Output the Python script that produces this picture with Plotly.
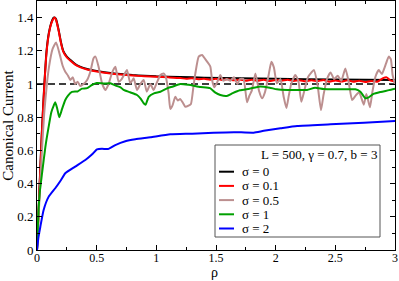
import plotly.graph_objects as go

# ---- data ----
rho_s0 = [0, 0.02, 0.04, 0.06, 0.08, 0.10, 0.12, 0.14, 0.15, 0.16, 0.18, 0.20, 0.22, 0.25, 0.28,
          0.32, 0.36, 0.42, 0.50, 0.60, 0.70, 0.80, 0.90, 1.0, 1.2, 1.4, 1.7, 2.0, 2.5, 3.0]
cur_s0 = [0, 0.36, 0.70, 0.98, 1.20, 1.31, 1.37, 1.40, 1.40, 1.39, 1.33, 1.255, 1.20, 1.165, 1.145,
          1.12, 1.105, 1.09, 1.078, 1.068, 1.06, 1.054, 1.05, 1.046, 1.042, 1.038, 1.034, 1.031, 1.027, 1.024]

rho_s01 = [0, 0.02, 0.04, 0.06, 0.08, 0.10, 0.12, 0.14, 0.15, 0.16, 0.18, 0.20, 0.22, 0.25, 0.28,
           0.32, 0.36, 0.42, 0.50, 0.60, 0.70, 0.80, 0.90, 1.0, 1.1, 1.2, 1.25, 1.3, 1.35, 1.4, 1.45,
           1.5, 1.55, 1.6, 1.65, 1.7, 1.75, 1.8, 1.85, 1.9, 1.95, 2.0, 2.05, 2.1, 2.15, 2.2, 2.25,
           2.3, 2.35, 2.4, 2.45, 2.5, 2.55, 2.6, 2.65, 2.7, 2.75, 2.8, 2.85, 2.9, 2.93, 2.96, 3.0]
cur_s01 = [0, 0.35, 0.69, 0.97, 1.19, 1.305, 1.365, 1.395, 1.40, 1.385, 1.325, 1.25, 1.195, 1.16, 1.14,
           1.117, 1.102, 1.087, 1.075, 1.065, 1.057, 1.051, 1.047, 1.043, 1.040, 1.036, 1.031, 1.034, 1.028, 1.031, 1.026,
           1.032, 1.024, 1.029, 1.022, 1.027, 1.02, 1.026, 1.019, 1.025, 1.018, 1.024, 1.02, 1.026, 1.018, 1.023, 1.016,
           1.022, 1.017, 1.024, 1.014, 1.021, 1.015, 1.022, 1.014, 1.02, 1.012, 1.018, 1.013, 1.035, 1.04, 1.022, 1.015]

rho_s05 = [0, 0.02, 0.04, 0.06, 0.08, 0.10, 0.13, 0.16, 0.19, 0.215, 0.237, 0.26, 0.279, 0.30, 0.32, 0.34,
           0.363, 0.39, 0.42, 0.447, 0.474, 0.49, 0.516, 0.545, 0.573, 0.60, 0.63, 0.657, 0.684, 0.71,
           0.726, 0.754, 0.782, 0.81, 0.838, 0.866, 0.894, 0.92, 0.95, 0.977, 1.005, 1.034, 1.061, 1.08,
           1.103, 1.117, 1.135, 1.159, 1.18, 1.20, 1.22, 1.243, 1.27, 1.29, 1.31, 1.327, 1.355, 1.383,
           1.41, 1.44, 1.453, 1.467, 1.486, 1.51, 1.536, 1.56, 1.59, 1.62, 1.65, 1.68, 1.70, 1.73, 1.76,
           1.78, 1.80, 1.83, 1.86, 1.886, 1.91, 1.94, 1.964, 1.985, 2.01, 2.04, 2.067, 2.09, 2.11, 2.13,
           2.165, 2.19, 2.215, 2.24, 2.27, 2.30, 2.32, 2.35, 2.38, 2.40, 2.43, 2.46, 2.49, 2.52, 2.55,
           2.584, 2.61, 2.64, 2.67, 2.70, 2.738, 2.76, 2.79, 2.81, 2.836, 2.864, 2.89, 2.925, 2.947,
           2.965, 2.98, 3.0]
cur_s05 = [0, 0.30, 0.58, 0.82, 0.98, 1.10, 1.21, 1.25, 1.18, 1.11, 1.074, 1.05, 1.024, 1.04, 1.0, 1.014,
           0.988, 1.0, 1.024, 1.074, 1.155, 1.165, 1.104, 1.004, 0.964, 1.0, 1.07, 1.104, 1.014, 1.03,
           1.05, 1.084, 1.004, 1.034, 0.964, 1.0, 1.024, 0.954, 1.0, 0.964, 1.01, 1.054, 1.064, 1.04,
           0.944, 0.85, 0.87, 0.923, 0.90, 0.91, 0.89, 0.863, 0.87, 0.88, 0.98, 1.064, 1.165, 1.175,
           1.15, 1.12, 1.104, 1.024, 0.98, 1.01, 1.054, 1.02, 1.03, 1.02, 1.04, 1.0, 1.03, 1.03, 0.89,
           0.93, 0.96, 1.064, 0.96, 0.914, 0.95, 1.05, 1.134, 1.10, 1.004, 1.03, 0.923, 0.855, 0.93, 1.0,
           1.054, 1.02, 0.893, 0.96, 1.04, 1.07, 1.084, 1.0, 0.843, 0.93, 1.03, 1.07, 1.03, 1.05, 1.02,
           1.094, 1.02, 0.904, 0.93, 0.95, 0.875, 0.94, 0.86, 0.95, 1.044, 1.084, 1.06, 1.124, 1.165,
           1.15, 1.054, 1.0]

rho_s1 = [0, 0.005, 0.013, 0.025, 0.042, 0.07, 0.097, 0.12, 0.14, 0.153, 0.17, 0.187, 0.21, 0.237, 0.26,
          0.293, 0.34, 0.377, 0.42, 0.46, 0.50, 0.56, 0.614, 0.66, 0.70, 0.726, 0.78, 0.838, 0.87, 0.894,
          0.91, 0.936, 0.98, 1.034, 1.09, 1.14, 1.2, 1.27, 1.37, 1.45, 1.495, 1.536, 1.59, 1.64, 1.70,
          1.78, 1.87, 1.95, 2.01, 2.1, 2.165, 2.263, 2.33, 2.4, 2.5, 2.6, 2.668, 2.71, 2.752, 2.78, 2.82,
          2.88, 2.95, 3.0]
cur_s1 = [0, 0.10, 0.24, 0.36, 0.46, 0.62, 0.74, 0.83, 0.87, 0.89, 0.85, 0.80, 0.85, 0.904, 0.93,
          0.953, 0.955, 0.972, 0.975, 0.994, 1.006, 1.003, 1.004, 0.99, 0.98, 0.964, 0.95, 0.934, 0.91, 0.884,
          0.875, 0.923, 0.944, 0.953, 0.974, 0.985, 1.0, 0.995, 0.982, 0.975, 0.948, 0.934, 0.928, 0.945, 0.962,
          0.972, 0.985, 0.978, 0.968, 0.964, 0.964, 0.964, 0.978, 0.97, 0.968, 0.968, 0.968, 0.953, 0.914, 0.92, 0.94,
          0.952, 0.963, 0.972]

rho_s2 = [0, 0.013, 0.028, 0.055, 0.097, 0.153, 0.2, 0.237, 0.32, 0.405, 0.46, 0.503, 0.545, 0.595,
          0.656, 0.74, 0.824, 0.95, 1.117, 1.3, 1.48, 1.65, 1.816, 1.9, 2.04, 2.18, 2.46, 2.74, 3.0]
cur_s2 = [0, 0.08, 0.14, 0.24, 0.32, 0.372, 0.42, 0.462, 0.502, 0.542, 0.575, 0.606, 0.61, 0.608,
          0.632, 0.655, 0.667, 0.679, 0.697, 0.701, 0.707, 0.71, 0.707, 0.718, 0.733, 0.747, 0.757, 0.767, 0.777]

ref_x = [0, 3]
ref_y = [1, 1]

series = [
    ("σ = 0", rho_s0, cur_s0, "#000000"),
    ("σ = 0.1", rho_s01, cur_s01, "#ff0000"),
    ("σ = 0.5", rho_s05, cur_s05, "#bc8f8f"),
    ("σ = 1", rho_s1, cur_s1, "#00a000"),
    ("σ = 2", rho_s2, cur_s2, "#0000ff"),
]
legend_title = "L = 500, γ = 0.7, b = 3"
x_title = "ρ"
y_title = "Canonical Current"

FONT = "Liberation Serif"
W, H = 399, 281
ML, MR, MT, MB = 37, 4, 1, 31

fig = go.Figure()
fig.add_trace(go.Scatter(x=ref_x, y=ref_y, mode="lines",
                         line=dict(color="black", width=1.5, dash="7px,4px"), showlegend=False))
for name, xs, ys, col in series:
    fig.add_trace(go.Scatter(x=xs, y=ys, mode="lines", name=name,
                             line=dict(color=col, width=2, shape="spline", smoothing=0.5),
                             showlegend=False))

# manual legend (pixel helper -> paper coords)
pw, ph = W - ML - MR, H - MT - MB
def px(x):
    return (x - ML) / pw
def py(y):
    return (H - MB - y) / ph

fig.add_shape(type="rect", xref="paper", yref="paper",
              x0=px(215), x1=px(380), y0=py(237), y1=py(145),
              line=dict(color="#555555", width=1), fillcolor="white")
fig.add_annotation(xref="paper", yref="paper", x=px(379), y=py(154), text=legend_title,
                   showarrow=False, xanchor="right", yanchor="middle",
                   font=dict(family=FONT, size=13, color="black"))
row_y = [171.7, 185.9, 200.1, 214.3, 228.5]
for (name, xs, ys, col), ry in zip(series, row_y):
    fig.add_shape(type="line", xref="paper", yref="paper",
                  x0=px(219), x1=px(234), y0=py(ry), y1=py(ry),
                  line=dict(color=col, width=2))
    fig.add_annotation(xref="paper", yref="paper", x=px(240), y=py(ry), text=name,
                       showarrow=False, xanchor="left", yanchor="middle",
                       font=dict(family=FONT, size=13, color="black"))

# x-axis title placed just below the tick labels
fig.add_annotation(xref="paper", yref="paper", x=px(214), y=py(282), text=x_title,
                   showarrow=False, xanchor="center", yanchor="bottom",
                   font=dict(family=FONT, size=14, color="black"))

axis_common = dict(showline=True, linecolor="black", linewidth=1, mirror="ticks",
                   ticks="inside", ticklen=5, tickwidth=1, tickcolor="black",
                   showgrid=False, zeroline=False, automargin=False)
fig.update_xaxes(range=[0, 3], dtick=0.5, tick0=0, ticklabelstandoff=-3,
                 tickfont=dict(family=FONT, size=12, color="black"),
                 minor=dict(dtick=0.25, ticks="inside", ticklen=3, tickcolor="black"),
                 **axis_common)
fig.update_yaxes(range=[0, 1.5], dtick=0.2, tick0=0,
                 tickfont=dict(family=FONT, size=13, color="black"),
                 minor=dict(dtick=0.1, ticks="inside", ticklen=3, tickcolor="black"),
                 title=dict(text=y_title, font=dict(family=FONT, size=15, color="black"), standoff=4),
                 **axis_common)
fig.update_layout(width=W, height=H, margin=dict(l=ML, r=MR, t=MT, b=MB),
                  font=dict(family=FONT, color="black"),
                  plot_bgcolor="white", paper_bgcolor="white", showlegend=False)
fig.write_html("out.html", config={"displayModeBar": False},
               post_script="document.body.style.margin='0';document.body.style.overflow='hidden';")
